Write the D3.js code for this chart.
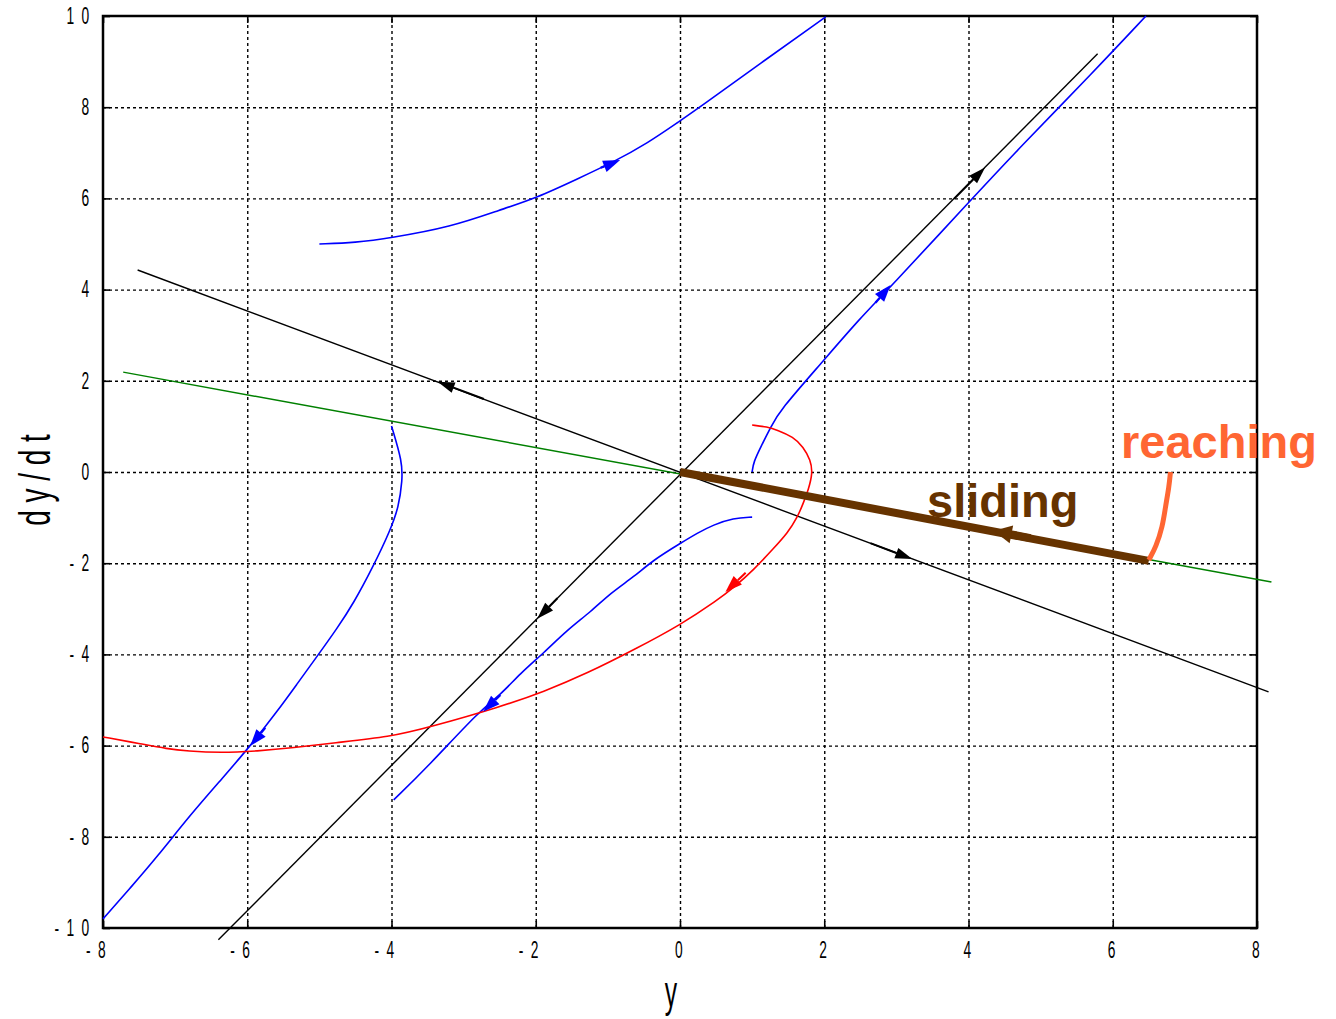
<!DOCTYPE html>
<html>
<head>
<meta charset="utf-8">
<script src="https://cdn.jsdelivr.net/npm/d3@7"></script>
<style>
  body { margin: 0; background: #fff; }
  svg { display: block; }
</style>
</head>
<body>
<svg id="chart" width="1336" height="1019"></svg>
<script>
// Axis ticks
const xTicks = [-8, -6, -4, -2, 0, 2, 4, 6, 8];
const yTicks = [-10, -8, -6, -4, -2, 0, 2, 4, 6, 8, 10];

// Straight lines (y, dy/dt)
const posLine = [[-6.4, -10.26], [5.79, 9.17]];
const negLine = [[-7.52, 4.43], [8.16, -4.82]];
const greenLine = [[-7.72, 2.19], [8.2, -2.41]];
const slidingLine = [[0, 0], [6.5, -1.95]];
const reachingCurve = [[6.5, -1.93], [6.6, -1.64], [6.69, -1.2], [6.73, -0.77], [6.78, -0.33], [6.8, 0]];

// Blue trajectories
const blueTop = [[-5, 5], [-4.5, 5.03], [-4.02, 5.13], [-3.18, 5.37], [-2.49, 5.75], [-1.99, 6.01], [-1.42, 6.43],
  [-0.92, 6.8], [-0.45, 7.21], [0, 7.7], [0.26, 7.98], [1.12, 8.97], [2.02, 9.98]];
const blueLeft = [[-4, 1.01], [-3.85, 0.22], [-3.85, -0.18], [-3.9, -0.77], [-4.02, -1.29], [-4.25, -2.06],
  [-4.53, -2.89], [-4.75, -3.42], [-5.03, -4.04], [-5.31, -4.65], [-5.58, -5.24], [-5.96, -6.01],
  [-6.33, -6.69], [-6.79, -7.52], [-7.25, -8.44], [-7.62, -9.12], [-8, -9.8]];
const blueMid = [[1, -0.99], [0.74, -1.01], [0.46, -1.16], [0.24, -1.34], [0.01, -1.56], [-0.37, -1.93],
  [-0.64, -2.3], [-0.96, -2.65], [-1.24, -3.07], [-1.56, -3.46], [-1.89, -3.97], [-2.21, -4.41],
  [-2.49, -4.89], [-2.77, -5.22], [-3.5, -6.47], [-3.97, -7.19]];
const blueRight = [[1, 0], [1.02, 0.22], [1.12, 0.55], [1.26, 0.99], [1.39, 1.36], [1.95, 2.37], [2.5, 3.38],
  [2.88, 3.99], [4.03, 5.96], [4.72, 7.13], [5.73, 8.77], [6.46, 10]];

// Red trajectory
const redCurve = [[1, 1.03], [1.21, 0.99], [1.35, 0.92], [1.57, 0.77], [1.71, 0.55], [1.81, 0.26], [1.84, -0.02],
  [1.78, -0.39], [1.71, -0.68], [1.63, -0.99], [1.49, -1.34], [1.3, -1.67], [1.02, -2.15], [0.74, -2.54],
  [0.52, -2.81], [0.01, -3.35], [-0.64, -3.9], [-1.28, -4.41], [-1.89, -4.82], [-2.49, -5.15], [-3.46, -5.59],
  [-4.02, -5.81], [-4.81, -5.94], [-5.36, -6.05], [-5.86, -6.12], [-6.37, -6.16], [-6.83, -6.12],
  [-7.11, -6.07], [-7.48, -5.96], [-8, -5.81]];

// Arrows: [tail, tip]
const blackArrows = [[[3.8, 5.99], [4.23, 6.68]], [[-1.7, -2.77], [-1.98, -3.22]],
  [[-2.72, 1.6], [-3.36, 1.98]], [[2.64, -1.56], [3.22, -1.91]]];
const blueArrows = [[[-1.1, 6.67], [-0.83, 6.84]], [[-5.75, -5.61], [-5.96, -6.01]],
  [[-2.49, -4.89], [-2.73, -5.26]], [[2.71, 3.71], [2.92, 4.1]]];
const redArrows = [[[0.91, -2.21], [0.63, -2.63]]];
const brownArrows = [[[4.86, -1.45], [4.35, -1.29]]];

const svg = d3.select("#chart");
const mLeft = 103, mRight = 1257, mTop = 16, mBottom = 928;
const x = d3.scaleLinear().domain([-8, 8]).range([mLeft, mRight]);
const y = d3.scaleLinear().domain([-10, 10]).range([mBottom, mTop]);
const squeeze = 0.6;
const spaced = d => String(d).split("").join(" ");

// grid
svg.append("g")
  .attr("transform", "translate(0," + mBottom + ")")
  .call(d3.axisBottom(x).tickValues(xTicks.slice(1, -1)).tickSize(-(mBottom - mTop)).tickFormat(""))
  .call(g => g.select(".domain").remove())
  .selectAll("line").attr("stroke", "#000").attr("stroke-width", 1.4).attr("stroke-dasharray", "3,3");
svg.append("g")
  .attr("transform", "translate(" + mLeft + ",0)")
  .call(d3.axisLeft(y).tickValues(yTicks.slice(1, -1)).tickSize(-(mRight - mLeft)).tickFormat(""))
  .call(g => g.select(".domain").remove())
  .selectAll("line").attr("stroke", "#000").attr("stroke-width", 1.4).attr("stroke-dasharray", "3,3");

// axes with inward ticks
function styleAxis(g, dx) {
  g.select(".domain").remove();
  g.selectAll("line").attr("stroke", "#000").attr("stroke-width", 1.6);
  g.selectAll("text")
    .attr("font-family", "Liberation Sans, Arial, sans-serif")
    .attr("font-size", 23)
    .attr("letter-spacing", 3)
    .attr("fill", "#000")
    .each(function() {
      const t = d3.select(this);
      t.attr("x", ((+t.attr("x") || 0) + dx) / squeeze).attr("transform", "scale(" + squeeze + ",1)");
    });
}
svg.append("g")
  .attr("transform", "translate(0," + mBottom + ")")
  .call(d3.axisBottom(x).tickValues(xTicks).tickSize(-7).tickPadding(14).tickFormat(spaced))
  .call(g => g.selectAll("text").attr("text-anchor", "end").attr("dy", "0.71em"))
  .call(g => styleAxis(g, 4));
svg.append("g")
  .attr("transform", "translate(0," + mTop + ")")
  .call(d3.axisTop(x).tickValues(xTicks).tickSize(-7).tickFormat(""))
  .call(g => styleAxis(g, 0));
svg.append("g")
  .attr("transform", "translate(" + mLeft + ",0)")
  .call(d3.axisLeft(y).tickValues(yTicks).tickSize(-7).tickPadding(12).tickFormat(spaced))
  .call(g => styleAxis(g, 0));
svg.append("g")
  .attr("transform", "translate(" + mRight + ",0)")
  .call(d3.axisRight(y).tickValues(yTicks).tickSize(-7).tickFormat(""))
  .call(g => styleAxis(g, 0));

// frame
svg.append("rect")
  .attr("x", mLeft).attr("y", mTop).attr("width", mRight - mLeft).attr("height", mBottom - mTop)
  .attr("fill", "none").attr("stroke", "#000").attr("stroke-width", 2.5);

// axis titles
svg.append("text")
  .attr("transform", "translate(671,1007) scale(0.55,1)")
  .attr("text-anchor", "middle")
  .attr("font-family", "Liberation Sans, Arial, sans-serif")
  .attr("font-size", 45)
  .text("y");
svg.append("text")
  .attr("transform", "translate(50,480) rotate(-90) scale(0.62,1)")
  .attr("text-anchor", "middle")
  .attr("font-family", "Liberation Sans, Arial, sans-serif")
  .attr("font-size", 45)
  .text("d y / d t");

// lines
const line = d3.line().x(d => x(d[0])).y(d => y(d[1]));
const smooth = d3.line().x(d => x(d[0])).y(d => y(d[1])).curve(d3.curveBasis);

function drawPath(data, color, width, gen) {
  svg.append("path")
    .datum(data)
    .attr("d", gen || line)
    .attr("fill", "none")
    .attr("stroke", color)
    .attr("stroke-width", width)
    .attr("stroke-linejoin", "round");
}

drawPath(greenLine, "#008000", 1.5);
drawPath(posLine, "#000", 1.4);
drawPath(negLine, "#000", 1.4);
drawPath(blueTop, "#0000ff", 1.6, smooth);
drawPath(blueLeft, "#0000ff", 1.6, smooth);
drawPath(blueMid, "#0000ff", 1.6, smooth);
drawPath(blueRight, "#0000ff", 1.6, smooth);
drawPath(redCurve, "#ff0000", 1.6, smooth);
drawPath(slidingLine, "#663300", 8);
drawPath(reachingCurve, "#ff6633", 5, smooth);

// arrow heads
function drawArrows(list, color, len, half, shaft) {
  list.forEach(a => {
    const x0 = x(a[0][0]), y0 = y(a[0][1]), x1 = x(a[1][0]), y1 = y(a[1][1]);
    const ang = Math.atan2(y1 - y0, x1 - x0);
    const bx = x1 - len * Math.cos(ang), by = y1 - len * Math.sin(ang);
    const px = -Math.sin(ang) * half, py = Math.cos(ang) * half;
    svg.append("line")
      .attr("x1", x0).attr("y1", y0).attr("x2", bx).attr("y2", by)
      .attr("stroke", color).attr("stroke-width", shaft);
    svg.append("path")
      .attr("d", "M" + x1 + "," + y1 + "L" + (bx + px) + "," + (by + py) + "L" + (bx - px) + "," + (by - py) + "Z")
      .attr("fill", color);
  });
}
drawArrows(blackArrows, "#000", 17, 5.5, 2);
drawArrows(blueArrows, "#0000ff", 17, 6, 2.2);
drawArrows(redArrows, "#ff0000", 17, 6, 2);
drawArrows(brownArrows, "#663300", 18, 9, 8);

// annotations
svg.append("text")
  .attr("x", 927).attr("y", 517)
  .attr("font-family", "Liberation Sans, Arial, sans-serif")
  .attr("font-weight", "bold")
  .attr("font-size", 47)
  .attr("fill", "#663300")
  .text("sliding");
svg.append("text")
  .attr("x", 1121).attr("y", 458)
  .attr("font-family", "Liberation Sans, Arial, sans-serif")
  .attr("font-weight", "bold")
  .attr("font-size", 47)
  .attr("fill", "#ff6633")
  .text("reaching");
</script>
</body>
</html>
